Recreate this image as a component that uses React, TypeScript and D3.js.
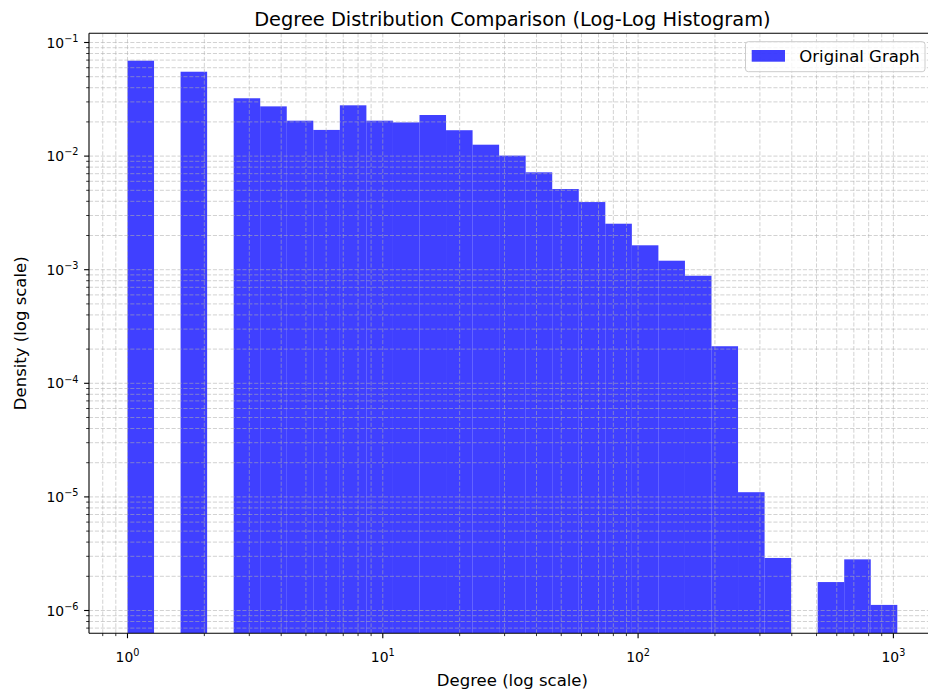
import React from "react";
import * as d3 from "d3";

// Histogram layout: log-spaced bins from degree 1 up to the maximum degree
const MAX_DEGREE = 1036;
const BIN_COUNT = 29;

// Density per bin (0 = empty bin, not drawn)
const DENSITY = [
  0.0692, 0, 0.0553, 0, 0.0323, 0.0274, 0.0205, 0.017, 0.028, 0.0205,
  0.0198, 0.023, 0.0169, 0.0126, 0.0101, 0.0072, 0.00513, 0.00394, 0.00254,
  0.00164, 0.0012, 0.000885, 0.000212, 1.1e-5, 2.9e-6, 0, 1.78e-6, 2.82e-6,
  1.12e-6,
];

const X_TICK_EXPONENTS = [0, 1, 2, 3];
const Y_TICK_EXPONENTS = [-6, -5, -4, -3, -2, -1];

const TITLE = "Degree Distribution Comparison (Log-Log Histogram)";
const X_LABEL = "Degree (log scale)";
const Y_LABEL = "Density (log scale)";
const SERIES_NAME = "Original Graph";

const W = 928;
const H = 696;
const M = { left: 89, right: 935.8, top: 33.3, bottom: 633.3 };
const FONT = "'DejaVu Sans', sans-serif";
const BAR_COLOR = "#0000ff";
const BAR_ALPHA = 0.75;

export default function App() {
  const logMax = Math.log10(MAX_DEGREE);
  const edges = d3.range(BIN_COUNT + 1).map((i) => Math.pow(10, (i * logMax) / BIN_COUNT));
  const pad = 0.05 * logMax;

  const x = d3
    .scaleLog()
    .domain([Math.pow(10, -pad), Math.pow(10, logMax + pad)])
    .range([M.left, M.right]);
  const y = d3
    .scaleLog()
    .domain([Math.pow(10, -6.2007), Math.pow(10, -0.919)])
    .range([M.bottom, M.top]);

  const [x0, x1] = x.domain();
  const [y0, y1] = y.domain();

  const minorOf = (lo: number, hi: number) => {
    const out: number[] = [];
    for (let e = Math.floor(Math.log10(lo)); e <= Math.ceil(Math.log10(hi)); e++) {
      for (let k = 2; k <= 9; k++) {
        const v = k * Math.pow(10, e);
        if (v >= lo && v <= hi) out.push(v);
      }
    }
    return out;
  };
  const xMinor = minorOf(x0, x1);
  const yMinor = minorOf(y0, y1);
  const xMajor = X_TICK_EXPONENTS.map((e) => Math.pow(10, e));
  const yMajor = Y_TICK_EXPONENTS.map((e) => Math.pow(10, e));

  const bars = DENSITY.map((d, i) => ({ d, lo: edges[i], hi: edges[i + 1] })).filter((b) => b.d > 0);

  const gridStyle = {
    stroke: "#b0b0b0",
    strokeWidth: 0.8,
    strokeDasharray: "4.1,1.8",
    opacity: 0.7,
  } as const;

  const fmtExp = (e: number) => (e < 0 ? "\u2212" + Math.abs(e) : String(e));

  return (
    <svg
      width={W}
      height={H}
      style={{ position: "absolute", left: 0, top: 0, background: "#fff" }}
      fontFamily={FONT}
    >
      <rect x={0} y={0} width={W} height={H} fill="#fff" />
      <defs>
        <clipPath id="plot-area">
          <rect x={M.left} y={M.top} width={M.right - M.left} height={M.bottom - M.top} />
        </clipPath>
      </defs>

      {/* bars */}
      <g clipPath="url(#plot-area)">
        {bars.map((b, i) => (
          <rect
            key={i}
            x={x(b.lo)}
            y={y(b.d)}
            width={x(b.hi) - x(b.lo)}
            height={M.bottom - y(b.d)}
            fill={BAR_COLOR}
            fillOpacity={BAR_ALPHA}
          />
        ))}
      </g>

      {/* grid (major + minor) drawn over the bars */}
      <g clipPath="url(#plot-area)">
        {[...xMajor, ...xMinor].map((v, i) => (
          <line key={"gx" + i} x1={x(v)} x2={x(v)} y1={M.top} y2={M.bottom} {...gridStyle} />
        ))}
        {[...yMajor, ...yMinor].map((v, i) => (
          <line key={"gy" + i} x1={M.left} x2={M.right} y1={y(v)} y2={y(v)} {...gridStyle} />
        ))}
      </g>

      {/* spines */}
      <line x1={M.left} x2={M.left} y1={M.top} y2={M.bottom} stroke="#000" strokeWidth={1.1} />
      <line x1={M.left} x2={M.right} y1={M.bottom} y2={M.bottom} stroke="#000" strokeWidth={1.1} />
      <line x1={M.left} x2={M.right} y1={M.top} y2={M.top} stroke="#000" strokeWidth={1.1} />
      <line x1={M.right} x2={M.right} y1={M.top} y2={M.bottom} stroke="#000" strokeWidth={1.1} />

      {/* x ticks */}
      {xMajor.map((v, i) => (
        <g key={"xt" + i}>
          <line x1={x(v)} x2={x(v)} y1={M.bottom} y2={M.bottom + 4.9} stroke="#000" strokeWidth={1.1} />
          <text x={x(v)} y={661.5} textAnchor="middle" fontSize={13.9} fill="#000">
            <tspan>10</tspan>
            <tspan dy={-5.8} fontSize={9.7}>
              {fmtExp(X_TICK_EXPONENTS[i])}
            </tspan>
          </text>
        </g>
      ))}
      {xMinor.map((v, i) => (
        <line key={"xm" + i} x1={x(v)} x2={x(v)} y1={M.bottom} y2={M.bottom + 2.8} stroke="#000" strokeWidth={0.8} />
      ))}

      {/* y ticks */}
      {yMajor.map((v, i) => (
        <g key={"yt" + i}>
          <line x1={M.left - 4.9} x2={M.left} y1={y(v)} y2={y(v)} stroke="#000" strokeWidth={1.1} />
          <text x={78.5} y={y(v) + 5} textAnchor="end" fontSize={13.9} fill="#000">
            <tspan>10</tspan>
            <tspan dy={-5.8} fontSize={9.7}>
              {fmtExp(Y_TICK_EXPONENTS[i])}
            </tspan>
          </text>
        </g>
      ))}
      {yMinor.map((v, i) => (
        <line key={"ym" + i} x1={M.left - 2.8} x2={M.left} y1={y(v)} y2={y(v)} stroke="#000" strokeWidth={0.8} />
      ))}

      {/* labels */}
      <text x={(M.left + M.right) / 2} y={25.5} textAnchor="middle" fontSize={19.4} fill="#000">
        {TITLE}
      </text>
      <text x={(M.left + M.right) / 2} y={685.5} textAnchor="middle" fontSize={16.5} fill="#000">
        {X_LABEL}
      </text>
      <text
        transform={`translate(25.5, ${(M.top + M.bottom) / 2}) rotate(-90)`}
        textAnchor="middle"
        fontSize={16.5}
        fill="#000"
      >
        {Y_LABEL}
      </text>

      {/* legend */}
      <g>
        <rect x={745.5} y={41.7} width={179.5} height={30} rx={2.8} fill="#fff" fillOpacity={0.8} stroke="#cccccc" strokeWidth={1} />
        <rect x={751.7} y={50} width={33.3} height={11.7} fill={BAR_COLOR} fillOpacity={BAR_ALPHA} />
        <text x={799.3} y={62} fontSize={16.5} fill="#000">
          {SERIES_NAME}
        </text>
      </g>
    </svg>
  );
}
